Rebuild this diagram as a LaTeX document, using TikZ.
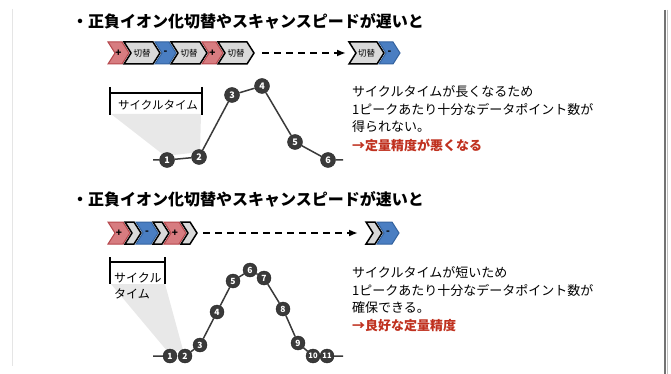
\documentclass[tikz,border=0pt]{standalone}
\usepackage{fontspec}
\setmainfont{Noto Sans CJK JP}
\usetikzlibrary{arrows.meta}
\definecolor{redfill}{HTML}{D77C80}
\definecolor{redline}{HTML}{B4454A}
\definecolor{bluefill}{HTML}{4A7EC2}
\definecolor{blueline}{HTML}{33629E}
\definecolor{grayfill}{HTML}{D9D9D9}
\definecolor{dotfill}{HTML}{3A3A3A}
\definecolor{warn}{HTML}{C0311F}
\definecolor{shadegray}{HTML}{E8E8E8}
\tikzset{
  redchev/.style={fill=redfill, draw=redline, line width=1pt},
  bluechev/.style={fill=bluefill, draw=blueline, line width=1pt},
  graychev/.style={fill=grayfill, draw=black, line width=1.5pt},
  chevtext/.style={inner sep=0pt, font=\fontsize{8.5}{9}\selectfont},
  signtext/.style={inner sep=0pt, font=\bfseries\fontsize{10}{10}\selectfont},
  ptbig/.style={circle, fill=dotfill, draw=black!85, line width=0.4pt, minimum size=15pt, inner sep=0pt, text=white, font=\bfseries\fontsize{9}{9}\selectfont},
  ptsmall/.style={ptbig, minimum size=14pt, font=\bfseries\fontsize{8.5}{9}\selectfont},
  pttiny/.style={ptsmall, font=\bfseries\fontsize{7.5}{8}\selectfont},
  curve/.style={draw=dotfill, line width=1.5pt},
  bracket/.style={line width=1.8pt},
  dasharrow/.style={line width=1.8pt, dash pattern=on 7pt off 5pt, -{Latex[length=9pt,width=7pt]}},
  titletext/.style={anchor=base west, inner sep=0pt, font=\bfseries\fontsize{16}{18}\selectfont},
  bodytext/.style={anchor=base west, inner sep=0pt, font=\fontsize{13}{16}\selectfont},
  warntext/.style={bodytext, text=warn, font=\bfseries\fontsize{13}{16}\selectfont},
  brtext/.style={anchor=base west, inner sep=0pt, font=\fontsize{12}{14}\selectfont},
  shade/.style={fill=shadegray}
}
\newcommand\chevron[7]{%
  \draw[#5] (#2,#4-11) -- ++(#3,0) -- ++(7,11) -- ++(-7,11) -- ++(-#3,0) -- ++(7,-11) -- cycle;
  \coordinate (#1-tip) at (#2+#3+7,#4);
  \coordinate (#1-in) at (#2,#4);
  \node[#7] (#1) at (#2+#3/2+3.5,#4) {#6};
}
\begin{document}
\begin{tikzpicture}[x=1pt,y=-1pt]
\fill[white] (0,0) rectangle (671,374);
\useasboundingbox (0,0) rectangle (671,374);
% frame
\draw[black!10, line width=0.8pt] (12,9) -- (12,366);
\draw[black!25, line width=1.5pt] (667.5,10) -- (667.5,374);
\draw[black!55, line width=2pt] (665,10) -- (665,374);

% ---------- upper part ----------
\node[titletext] (title1) at (72,28) {・正負イオン化切替やスキャンスピードが遅いと};
\chevron{r1a}{108}{14}{53}{redchev}{+}{signtext}
\chevron{r1b}{124}{29}{53}{graychev}{切替}{chevtext}
\chevron{r1c}{155}{14}{53}{bluechev}{-}{signtext}
\chevron{r1d}{171}{29}{53}{graychev}{切替}{chevtext}
\chevron{r1e}{202}{14}{53}{redchev}{+}{signtext}
\chevron{r1f}{218}{29}{53}{graychev}{切替}{chevtext}
\chevron{r1g}{349}{28}{53}{graychev}{切替}{chevtext}
\chevron{r1h}{379}{14}{53}{bluechev}{-}{signtext}
\draw[dasharrow, shorten <=8pt, shorten >=3pt] (r1f-tip) -- (r1g-in);

\fill[shade] (111,114) -- (201,114) -- (200,152) -- (165,156) -- cycle;
\draw[bracket] (110,87) -- (110,115);
\draw[bracket] (202,87) -- (202,115);
\draw[bracket] (110,93) -- (202,93);
\node[brtext, font=\fontsize{11.5}{14}\selectfont] (ct1) at (118,110) {サイクルタイム};

\coordinate (s1) at (153,160);
\coordinate (e1) at (343,160);
\node[ptbig] (a1) at (167,160) {1};
\node[ptbig] (a2) at (199,157) {2};
\node[ptbig] (a3) at (232,95) {3};
\node[ptbig] (a4) at (262,86) {4};
\node[ptbig] (a5) at (295,142) {5};
\node[ptbig] (a6) at (328,160) {6};
\draw[curve] (s1) -- (a1) -- (a2) -- (a3) -- (a4) -- (a5) -- (a6) -- (e1);

\node[bodytext] (t1a) at (352,97) {サイクルタイムが長くなるため};
\node[bodytext] (t1b) at (352,115) {1ピークあたり十分なデータポイント数が};
\node[bodytext] (t1c) at (352,132) {得られない。};
\node[warntext] (t1d) at (352,150) {→定量精度が悪くなる};

% ---------- lower part ----------
\node[titletext] (title2) at (72,205) {・正負イオン化切替やスキャンスピードが速いと};
\chevron{r2a}{108}{15}{233}{redchev}{+}{signtext}
\chevron{r2b}{125}{9}{233}{graychev}{}{chevtext}
\chevron{r2c}{136}{15}{233}{bluechev}{-}{signtext}
\chevron{r2d}{153}{9}{233}{graychev}{}{chevtext}
\chevron{r2e}{164}{15}{233}{redchev}{+}{signtext}
\chevron{r2f}{181}{9}{233}{graychev}{}{chevtext}
\chevron{r2g}{366}{9}{233}{graychev}{}{chevtext}
\chevron{r2h}{377}{15}{233}{bluechev}{-}{signtext}
\draw[dasharrow, shorten <=6pt, shorten >=8pt] (r2f-tip) -- (r2g-in);

\fill[shade] (111,284) -- (165,284) -- (183,350) -- (168,352) -- cycle;
\draw[bracket] (110,257) -- (110,284);
\draw[bracket] (165,257) -- (165,284);
\draw[bracket] (110,262) -- (165,262);
\node[brtext] (ct2a) at (114,282) {サイクル};
\node[brtext] (ct2b) at (114,298) {タイム};

\coordinate (s2) at (153,356);
\coordinate (e2) at (343,356);
\node[ptsmall] (b1) at (170,356) {1};
\node[ptsmall] (b2) at (185,356) {2};
\node[ptsmall] (b3) at (200,345) {3};
\node[ptsmall] (b4) at (217,312) {4};
\node[ptsmall] (b5) at (233,281) {5};
\node[ptsmall] (b6) at (250,270) {6};
\node[ptsmall] (b7) at (264,278) {7};
\node[ptsmall] (b8) at (283,309) {8};
\node[ptsmall] (b9) at (298,343) {9};
\node[pttiny] (b10) at (313,356) {10};
\node[pttiny] (b11) at (327,356) {11};
\draw[curve] (s2) -- (b1) (b2) -- (b3) -- (b4) -- (b5) -- (b6) -- (b7) -- (b8) -- (b9) -- (b10) (b11) -- (e2);

\node[bodytext] (t2a) at (352,277) {サイクルタイムが短いため};
\node[bodytext] (t2b) at (352,295) {1ピークあたり十分なデータポイント数が};
\node[bodytext] (t2c) at (352,312) {確保できる。};
\node[warntext] (t2d) at (352,330) {→良好な定量精度};
\end{tikzpicture}
\end{document}
